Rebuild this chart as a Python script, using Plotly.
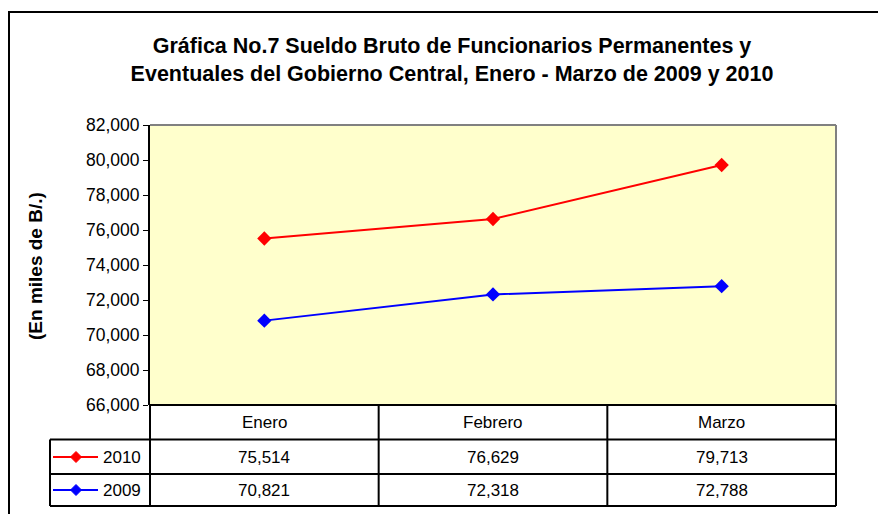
import plotly.graph_objects as go

categories = ["Enero", "Febrero", "Marzo"]
series_names = ["2010", "2009"]
values_2010 = [75514, 76629, 79713]
values_2009 = [70821, 72318, 72788]
series_values = [values_2010, values_2009]
series_colors = ["#FF0000", "#0000FF"]
y_ticks = list(range(66000, 82001, 2000))

W, H = 886, 514
OFF = 8  # page body margin
L, R, T, B = 150, 836, 125, 405  # plot area in screen pixels
PW, PH = R - L, B - T


def px(x):
    return (x - L) / PW


def py(y):
    return (B - y) / PH


FONT = "Liberation Sans, Arial, sans-serif"

fig = go.Figure()
for name, vals, col in zip(series_names, series_values, series_colors):
    fig.add_trace(go.Scatter(
        x=categories, y=vals, name=name, mode="lines+markers",
        line=dict(color=col, width=2),
        marker=dict(symbol="diamond", size=11, color=col),
        showlegend=False, cliponaxis=False,
    ))

shapes = []
annotations = []

# outer border
shapes.append(dict(type="rect", xref="paper", yref="paper",
                   x0=px(9), x1=px(900), y0=py(12), y1=py(530),
                   line=dict(color="black", width=2), layer="below"))
# plot area border (gray top/right)
shapes.append(dict(type="line", xref="paper", yref="paper",
                   x0=0, x1=1, y0=1, y1=1, line=dict(color="#808080", width=2)))
shapes.append(dict(type="line", xref="paper", yref="paper",
                   x0=1, x1=1, y0=0, y1=1, line=dict(color="#808080", width=2)))

# table
row_lines = [405, 439.5, 474, 506]
col_lines = [L + i * PW / 3 for i in range(4)]
for i, yl in enumerate(row_lines):
    x0 = L if i == 0 else 50
    shapes.append(dict(type="line", xref="paper", yref="paper",
                       x0=px(x0), x1=px(R), y0=py(yl), y1=py(yl),
                       line=dict(color="black", width=2)))
for xl in col_lines:
    shapes.append(dict(type="line", xref="paper", yref="paper",
                       x0=px(xl), x1=px(xl), y0=py(405), y1=py(506),
                       line=dict(color="black", width=2)))
shapes.append(dict(type="line", xref="paper", yref="paper",
                   x0=px(50), x1=px(50), y0=py(439.5), y1=py(506),
                   line=dict(color="black", width=2)))

TFS = 17
row_centers = [457, 490]
for cat in categories:
    annotations.append(dict(x=cat, xref="x", y=py(422), yref="paper",
                            xanchor="center", yanchor="middle",
                            text=cat, showarrow=False,
                            font=dict(family=FONT, size=TFS, color="black")))
for rc, name, vals, col in zip(row_centers, series_names, series_values, series_colors):
    for cat, v in zip(categories, vals):
        annotations.append(dict(x=cat, xref="x", y=py(rc), yref="paper",
                                xanchor="center", yanchor="middle",
                                text=f"{v:,}", showarrow=False,
                                font=dict(family=FONT, size=TFS, color="black")))
    # legend key
    shapes.append(dict(type="line", xref="paper", yref="paper",
                       x0=px(53), x1=px(98), y0=py(rc), y1=py(rc),
                       line=dict(color=col, width=2)))
    d = 5.5
    cx = 76
    path = (f"M {px(cx)} {py(rc - d)} L {px(cx + d)} {py(rc)} "
            f"L {px(cx)} {py(rc + d)} L {px(cx - d)} {py(rc)} Z")
    shapes.append(dict(type="path", xref="paper", yref="paper", path=path,
                       fillcolor=col, line=dict(color=col, width=1)))
    annotations.append(dict(x=px(143), xref="paper", y=py(rc), yref="paper",
                            text=name, showarrow=False, xanchor="right",
                            yanchor="middle",
                            font=dict(family=FONT, size=TFS, color="black")))

# y-axis title
annotations.append(dict(x=px(35), xref="paper", y=py(266), yref="paper",
                        xanchor="center", yanchor="middle",
                        text="<b>(En miles de B/.)</b>", showarrow=False,
                        textangle=-90,
                        font=dict(family=FONT, size=19, color="black")))

fig.update_layout(
    width=W, height=H,
    margin=dict(l=L - OFF, r=W - (R - OFF), t=T - OFF, b=H - (B - OFF)),
    paper_bgcolor="white",
    plot_bgcolor="#FFFFCC",
    title=dict(
        text="<b>Gráfica No.7 Sueldo Bruto de Funcionarios Permanentes y<br>"
             "Eventuales del Gobierno Central, Enero - Marzo de 2009 y 2010</b>",
        x=(452 - OFF) / W, xanchor="center", y=1 - (53 - OFF) / H,
        yanchor="middle",
        font=dict(family=FONT, size=21.5, color="black"),
    ),
    xaxis=dict(range=[-0.5, 2.5], showticklabels=False, showgrid=False,
               zeroline=False, ticks="", showline=False, fixedrange=True),
    yaxis=dict(range=[66000, 82000], tickvals=y_ticks, tickformat=",",
               showgrid=False, zeroline=False, showline=True,
               linecolor="black", linewidth=2, ticks="outside", ticklen=5,
               tickcolor="black", tickwidth=1,
               tickfont=dict(family=FONT, size=17.5, color="black")),
    shapes=shapes,
    annotations=annotations,
)

fig.write_html("out.html")
